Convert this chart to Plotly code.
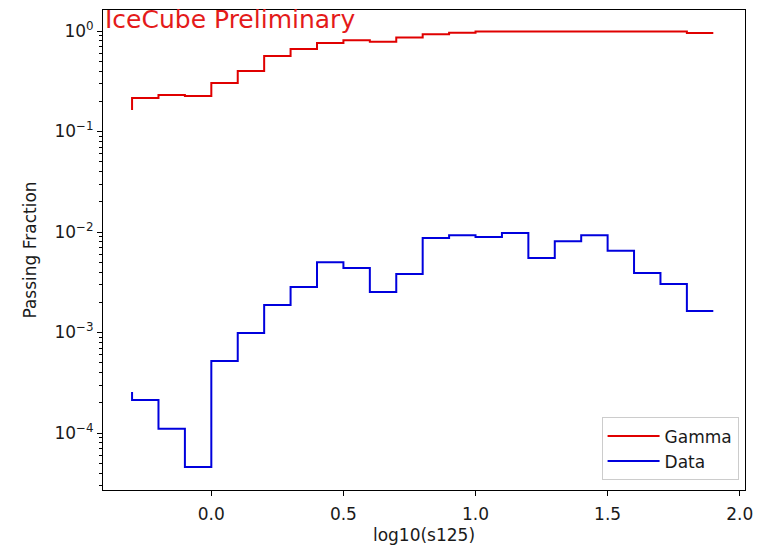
import plotly.graph_objects as go

# bin edges in log10(s125); first point carries the start value of each step curve
bin_edges = [-0.3, -0.2, -0.1, 0.0, 0.1, 0.2, 0.3, 0.4, 0.5, 0.6, 0.7, 0.8,
             0.9, 1.0, 1.1, 1.2, 1.3, 1.4, 1.5, 1.6, 1.7, 1.8, 1.9]

gamma_frac = [0.164, 0.216, 0.231, 0.225, 0.304, 0.40, 0.564, 0.662, 0.76,
              0.81, 0.78, 0.86, 0.93, 0.96, 0.99, 0.99, 0.99, 0.99, 0.99,
              0.99, 0.99, 0.99, 0.955]

data_frac = [2.56e-4, 2.13e-4, 1.10e-4, 4.6e-5, 5.2e-4, 9.9e-4, 1.88e-3,
             2.84e-3, 5.0e-3, 4.38e-3, 2.53e-3, 3.82e-3, 8.7e-3, 9.3e-3,
             8.9e-3, 9.8e-3, 5.5e-3, 8.1e-3, 9.3e-3, 6.5e-3, 3.9e-3,
             3.04e-3, 1.64e-3]

x_ticks = [0.0, 0.5, 1.0, 1.5, 2.0]
y_ticks = [1, 1e-1, 1e-2, 1e-3, 1e-4]
y_tick_text = ["10<sup>0</sup>", "10<sup>\u22121</sup>", "10<sup>\u22122</sup>",
               "10<sup>\u22123</sup>", "10<sup>\u22124</sup>"]

FONT = "DejaVu Sans"
TXT = "#1a1a1a"

fig = go.Figure()
fig.add_trace(go.Scatter(x=bin_edges, y=gamma_frac, mode="lines", name="Gamma",
                         line=dict(color="#e00000", width=2, shape="vh")))
fig.add_trace(go.Scatter(x=bin_edges, y=data_frac, mode="lines", name="Data",
                         line=dict(color="#0000dd", width=2, shape="vh")))

fig.add_annotation(text="IceCube Preliminary", xref="paper", yref="paper",
                   x=0.0, y=0.981, xanchor="left", yanchor="middle", showarrow=False,
                   font=dict(family=FONT, size=25, color="#e41a1a"))

axis_common = dict(showline=True, linecolor="black", linewidth=1, mirror=True,
                   ticks="outside", ticklen=5, tickcolor="black", showgrid=False,
                   zeroline=False, automargin=False,
                   tickfont=dict(family=FONT, size=17, color=TXT))

fig.update_xaxes(range=[-0.41, 2.02], tickvals=x_ticks, tickformat=".1f",
                 ticklabelstandoff=4,
                 title=dict(text="log10(s125)", standoff=6,
                            font=dict(family=FONT, size=17, color=TXT)),
                 **axis_common)
fig.update_yaxes(type="log", range=[-4.567, 0.209], tickvals=y_ticks,
                 ticktext=y_tick_text,
                 minor=dict(ticks="outside", ticklen=3, tickcolor="black",
                            dtick="D1", showgrid=False),
                 title=dict(text="Passing Fraction", standoff=13,
                            font=dict(family=FONT, size=17, color=TXT)),
                 **axis_common)

fig.update_layout(
    width=769, height=545,
    margin=dict(l=103, r=24, t=10, b=55),
    paper_bgcolor="white", plot_bgcolor="white",
    font=dict(family=FONT, size=17, color=TXT),
    legend=dict(x=0.99, y=0.02, xanchor="right", yanchor="bottom",
                bgcolor="rgba(255,255,255,0.8)", bordercolor="#cccccc",
                borderwidth=1, font=dict(family=FONT, size=17, color=TXT),
                itemwidth=52, tracegroupgap=2),
    showlegend=True,
)

fig.write_html("out.html")
